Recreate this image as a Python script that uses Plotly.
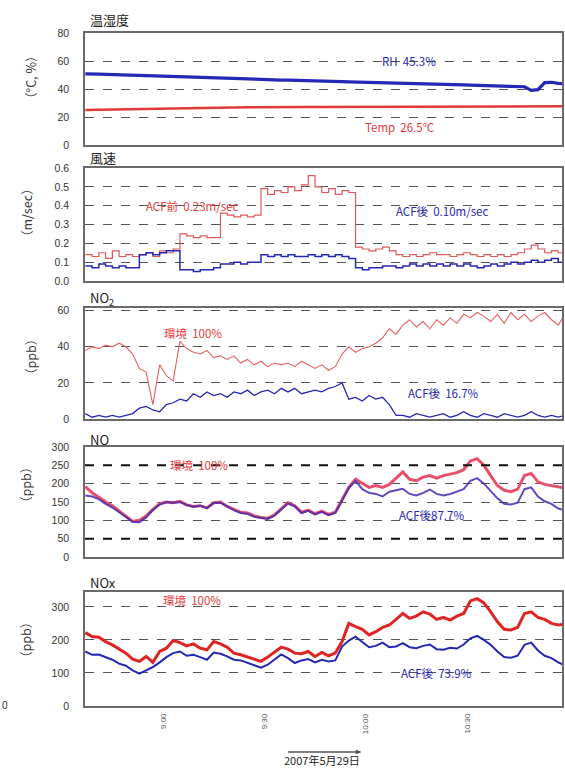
import pandas as pd
import plotly.graph_objects as go
from plotly.subplots import make_subplots

# Sampling grid: every 2 minutes on 2007-05-29
times = pd.date_range("2007-05-29 08:37", periods=72, freq="2min")

# --- 温湿度 ---
rh = [50.8, 50.9, 50.6, 50.5, 50.3, 50.2, 50.0, 49.9, 49.7, 49.6,
      49.3, 49.2, 49.1, 48.9, 48.8, 48.6, 48.5, 48.3, 48.1, 48.0,
      47.8, 47.7, 47.6, 47.3, 47.2, 47.1, 46.9, 46.7, 46.5, 46.4,
      46.3, 46.1, 46.0, 45.9, 45.7, 45.6, 45.4, 45.3, 45.2, 45.1,
      45.0, 44.8, 44.7, 44.5, 44.4, 44.3, 44.1, 44.0, 43.9, 43.7,
      43.7, 43.5, 43.4, 43.3, 43.1, 43.0, 42.9, 42.7, 42.6, 42.5,
      42.5, 42.3, 42.2, 42.1, 42.0, 41.6, 39.0, 39.5, 44.6, 44.8,
      44.0, 43.6]
temp = [25.0, 25.1, 25.1, 25.2, 25.3, 25.4, 25.5, 25.6, 25.7, 25.8,
        25.9, 26.0, 26.1, 26.2, 26.3, 26.4, 26.5, 26.5, 26.6, 26.6,
        26.7, 26.7, 26.8, 26.8, 26.9, 26.9, 27.0, 27.0, 27.0, 27.1,
        27.1, 27.1, 27.2, 27.2, 27.2, 27.2, 27.3, 27.3, 27.2, 27.3,
        27.3, 27.3, 27.4, 27.3, 27.4, 27.4, 27.4, 27.4, 27.5, 27.4,
        27.5, 27.5, 27.5, 27.5, 27.5, 27.5, 27.6, 27.5, 27.6, 27.6,
        27.5, 27.6, 27.6, 27.6, 27.6, 27.6, 27.6, 27.5, 27.6, 27.6,
        27.6, 27.6]

# --- 風速 (m/sec) ---
wind_before = [0.14, 0.13, 0.15, 0.12, 0.16, 0.13, 0.14, 0.13, 0.14, 0.15,
               0.13, 0.16, 0.15, 0.17, 0.25, 0.24, 0.23, 0.24, 0.23, 0.23,
               0.36, 0.35, 0.34, 0.35, 0.34, 0.35, 0.49, 0.46, 0.48, 0.47,
               0.50, 0.48, 0.51, 0.56, 0.50, 0.47, 0.49, 0.46, 0.48, 0.47,
               0.18, 0.17, 0.16, 0.17, 0.18, 0.16, 0.14, 0.13, 0.14, 0.13,
               0.14, 0.15, 0.14, 0.14, 0.13, 0.14, 0.15, 0.14, 0.13, 0.14,
               0.13, 0.14, 0.13, 0.14, 0.15, 0.17, 0.19, 0.17, 0.15, 0.16,
               0.15, 0.16]
wind_after = [0.08, 0.07, 0.09, 0.08, 0.07, 0.08, 0.07, 0.07, 0.14, 0.15,
              0.14, 0.15, 0.16, 0.16, 0.06, 0.06, 0.05, 0.06, 0.06, 0.07,
              0.09, 0.09, 0.10, 0.09, 0.10, 0.10, 0.14, 0.13, 0.14, 0.13,
              0.14, 0.13, 0.13, 0.14, 0.13, 0.14, 0.13, 0.14, 0.13, 0.12,
              0.07, 0.06, 0.07, 0.07, 0.08, 0.08, 0.07, 0.08, 0.09, 0.08,
              0.09, 0.08, 0.09, 0.08, 0.09, 0.08, 0.09, 0.08, 0.07, 0.08,
              0.09, 0.08, 0.09, 0.10, 0.09, 0.10, 0.11, 0.10, 0.11, 0.12,
              0.10, 0.11]

# --- NO2 (ppb) ---
no2_env = [38, 40, 39, 41, 40, 42, 40, 36, 28, 26,
           8, 30, 24, 21, 43, 39, 37, 36, 38, 34,
           35, 33, 35, 31, 33, 30, 32, 29, 31, 30,
           31, 29, 32, 30, 28, 30, 27, 29, 36, 40,
           37, 39, 40, 42, 45, 50, 47, 52, 55, 51,
           54, 50, 55, 52, 56, 53, 58, 56, 59, 57,
           54, 58, 53, 59, 55, 58, 54, 57, 59, 55,
           52, 58]
no2_acf = [3, 1, 2, 1, 2, 1, 2, 3, 6, 7,
           5, 4, 8, 9, 11, 10, 14, 12, 15, 13,
           14, 12, 15, 14, 16, 13, 15, 16, 14, 17,
           15, 17, 14, 15, 16, 15, 17, 18, 20, 11,
           12, 10, 13, 11, 12, 8, 2, 2, 1, 3,
           2, 1, 2, 3, 1, 2, 4, 2, 1, 3,
           2, 1, 3, 2, 1, 2, 4, 2, 1, 2,
           1, 2]

# --- NO (ppb) ---
no_env = [192, 175, 163, 150, 140, 125, 112, 97, 100, 112,
          130, 145, 150, 148, 152, 142, 138, 140, 134, 148,
          150, 138, 130, 122, 120, 112, 108, 106, 115, 132,
          148, 140, 122, 128, 118, 125, 116, 122, 155, 190,
          212, 200, 190, 195, 190, 198, 215, 232, 212, 208,
          218, 222, 215, 222, 226, 230, 238, 262, 268, 250,
          222, 195, 182, 178, 185, 222, 228, 205, 198, 195,
          192, 188]
no_acf = [168, 165, 158, 145, 135, 122, 110, 96, 95, 108,
          128, 143, 150, 148, 150, 142, 137, 140, 133, 147,
          148, 137, 128, 120, 118, 110, 106, 104, 113, 130,
          146, 138, 120, 126, 116, 123, 114, 120, 152, 188,
          208, 185, 175, 172, 165, 178, 182, 186, 172, 168,
          175, 184, 172, 168, 172, 178, 185, 208, 215, 200,
          180, 160, 145, 143, 148, 185, 190, 165, 152, 145,
          132, 128]

# --- NOx (ppb) ---
nox_env = [222, 210, 208, 195, 185, 172, 160, 142, 135, 150,
           132, 165, 175, 198, 192, 182, 188, 175, 170, 195,
           188, 178, 160, 155, 148, 140, 135, 148, 162, 178,
           172, 160, 158, 165, 150, 162, 152, 160, 195, 250,
           240, 232, 215, 225, 238, 245, 262, 280, 265, 272,
           285, 278, 262, 268, 260, 272, 280, 318, 325, 312,
           285, 255, 232, 230, 238, 280, 285, 268, 262, 250,
           245, 248]
nox_acf = [165, 155, 156, 148, 140, 128, 122, 108, 98, 108,
           118, 132, 148, 160, 165, 152, 155, 148, 140, 162,
           158, 150, 140, 138, 130, 122, 116, 125, 140, 156,
           145, 130, 138, 142, 132, 140, 135, 138, 180, 198,
           210, 195, 178, 182, 192, 178, 180, 190, 178, 175,
           182, 186, 172, 170, 176, 174, 186, 205, 212, 200,
           185, 165, 148, 146, 152, 185, 192, 168, 152, 145,
           132, 122]

panel_titles = ["温湿度", "風速", "NO<sub>2</sub>", "NO", "NOx"]
unit_titles = ["（°C, %）", "（m/sec）", "（ppb）", "（ppb）", "（ppb）"]
x_tick_times = ["2007-05-29 09:00", "2007-05-29 09:30",
                "2007-05-29 10:00", "2007-05-29 10:30"]
date_label = "2007年5月29日"

RED = "#e23a3a"
BLUE = "#2428b4"
CJK = "Noto Sans CJK JP"
LAT = "Liberation Sans"

W, H = 565, 779
L, R = 85, 3
# panel boxes as (top, bottom) in page pixels
boxes = [(33, 145), (168, 281), (308, 419), (447, 557), (592, 706)]


def py(p):
    return 1 - p / H


def px(p):
    return (p - L) / (W - L - R)


fig = make_subplots(rows=5, cols=1, shared_xaxes=True, vertical_spacing=0.02)

# 温湿度
fig.add_trace(go.Scatter(x=times, y=temp, mode="lines",
                         line=dict(color=RED, width=2.5)), row=1, col=1)
fig.add_trace(go.Scatter(x=times, y=rh, mode="lines",
                         line=dict(color=BLUE, width=3.2)), row=1, col=1)
# 風速
fig.add_trace(go.Scatter(x=times, y=wind_before, mode="lines", line_shape="hv",
                         line=dict(color="#e05858", width=1.2)), row=2, col=1)
fig.add_trace(go.Scatter(x=times, y=wind_after, mode="lines", line_shape="hv",
                         line=dict(color=BLUE, width=1.5)), row=2, col=1)
# NO2
fig.add_trace(go.Scatter(x=times, y=no2_env, mode="lines",
                         line=dict(color="#e86060", width=1.1)), row=3, col=1)
fig.add_trace(go.Scatter(x=times, y=no2_acf, mode="lines",
                         line=dict(color=BLUE, width=1.3)), row=3, col=1)
# NO
fig.add_trace(go.Scatter(x=times, y=no_env, mode="lines",
                         line=dict(color="#e8506a", width=3)), row=4, col=1)
fig.add_trace(go.Scatter(x=times, y=no_acf, mode="lines",
                         line=dict(color="rgba(70,40,180,0.85)", width=2)), row=4, col=1)
# NOx
fig.add_trace(go.Scatter(x=times, y=nox_env, mode="lines",
                         line=dict(color="#e02424", width=3)), row=5, col=1)
fig.add_trace(go.Scatter(x=times, y=nox_acf, mode="lines",
                         line=dict(color=BLUE, width=2)), row=5, col=1)

y_ranges = [[0, 80], [0, 0.6], [0, 61.5], [0, 300], [0, 345]]
y_ticks = [[0, 20, 40, 60, 80], [0, 0.1, 0.2, 0.3, 0.4, 0.5, 0.6],
           [0, 20, 40, 60], [0, 50, 100, 150, 200, 250, 300], [0, 100, 200, 300]]
y_fmt = ["d", ".1f", "d", "d", "d"]

xr = ["2007-05-29 08:36:54", "2007-05-29 10:58:07"]
for i in range(5):
    top, bot = boxes[i]
    ykey = "yaxis" if i == 0 else f"yaxis{i + 1}"
    xkey = "xaxis" if i == 0 else f"xaxis{i + 1}"
    fig.layout[ykey].update(
        domain=[py(bot), py(top)], range=y_ranges[i], tickvals=y_ticks[i],
        tickformat=y_fmt[i], showgrid=True, gridcolor="#555", griddash="dash",
        gridwidth=1, showline=True, linecolor="#6a6a6a", linewidth=1.5, mirror=True,
        ticks="", ticklabelstandoff=12, zeroline=False, automargin=False,
        tickfont=dict(family=LAT, size=10.5, color="#333"),
    )
    fig.layout[xkey].update(
        range=xr, showgrid=False, showline=True, linecolor="#6a6a6a", linewidth=1.5,
        mirror=True, ticks="", zeroline=False, automargin=False,
        showticklabels=False,
    )

# heavier reference lines in the NO panel
for v in (50, 250):
    fig.add_shape(type="line", xref="x4 domain", yref="y4", x0=0, x1=1, y0=v, y1=v,
                  line=dict(color="#111", width=2, dash="dash"))

ann = []
# time labels under the bottom panel, rotated
for t in x_tick_times:
    ts = pd.Timestamp(t)
    ann.append(dict(text=f"{ts.hour}:{ts.minute:02d}", xref="x5", yref="paper",
                    x=ts, y=py(711), yanchor="top", textangle=-90,
                    showarrow=False, font=dict(family=LAT, size=8, color="#555")))

title_pos = [19, 158, 298, 440, 582]
for t, yp in zip(panel_titles, title_pos):
    ann.append(dict(text=t, xref="paper", yref="paper", x=px(88), y=py(yp),
                    xanchor="left", yanchor="middle", showarrow=False,
                    font=dict(family=CJK, size=13, color="#222")))
unit_pos = [(30, 78), (26, 213), (30, 357), (25, 485), (25, 640)]
for t, (xp, yp) in zip(unit_titles, unit_pos):
    ann.append(dict(text=t, xref="paper", yref="paper", x=px(xp), y=py(yp),
                    xanchor="center", yanchor="middle", textangle=-90,
                    showarrow=False, font=dict(family=CJK, size=12.5, color="#333")))

labels = [
    ("RH  45.3%", 1, "2007-05-29 10:12:50", 60, BLUE),
    ("Temp  26.5℃", 1, "2007-05-29 10:10:10", 13, RED),
    ("ACF前  0.23m/sec", 2, "2007-05-29 09:08:40", 0.4, RED),
    ("ACF後  0.10m/sec", 2, "2007-05-29 10:22:40", 0.37, BLUE),
    ("環境  100%", 3, "2007-05-29 09:08:50", 47.8, RED),
    ("ACF後  16.7%", 3, "2007-05-29 10:23:10", 14.4, BLUE),
    ("環境  100%", 4, "2007-05-29 09:10:35", 250, RED),
    ("ACF後87.7%", 4, "2007-05-29 10:19:35", 114, BLUE),
    ("環境  100%", 5, "2007-05-29 09:08:40", 321, RED),
    ("ACF後  73.9%", 5, "2007-05-29 10:21:05", 100, BLUE),
]
for t, r, xv, yv, c in labels:
    sfx = "" if r == 1 else str(r)
    ann.append(dict(text=t, xref="x" + sfx, yref="y" + sfx, x=xv, y=yv,
                    showarrow=False, font=dict(family=CJK, size=11.5, color=c)))

ann.append(dict(text=date_label, xref="paper", yref="paper", x=px(322), y=py(770),
                showarrow=False, font=dict(family=CJK, size=11, color="#222")))
ann.append(dict(text="0", xref="paper", yref="paper", x=px(0), y=py(713),
                xanchor="left", showarrow=False,
                font=dict(family=LAT, size=10, color="#333")))

# arrow line above the date caption
fig.add_shape(type="line", xref="paper", yref="paper",
              x0=px(288), x1=px(360), y0=py(752), y1=py(752),
              line=dict(color="#555", width=1.3))
fig.add_shape(type="path", xref="paper", yref="paper",
              path=f"M {px(356)} {py(750)} L {px(361)} {py(752)} L {px(356)} {py(754)} Z",
              fillcolor="#555", line=dict(color="#555", width=0.5))

fig.update_layout(
    width=W, height=H, margin=dict(l=L, r=R, t=0, b=0),
    paper_bgcolor="white", plot_bgcolor="white", showlegend=False,
    annotations=ann,
)

fig.write_html("out.html")
